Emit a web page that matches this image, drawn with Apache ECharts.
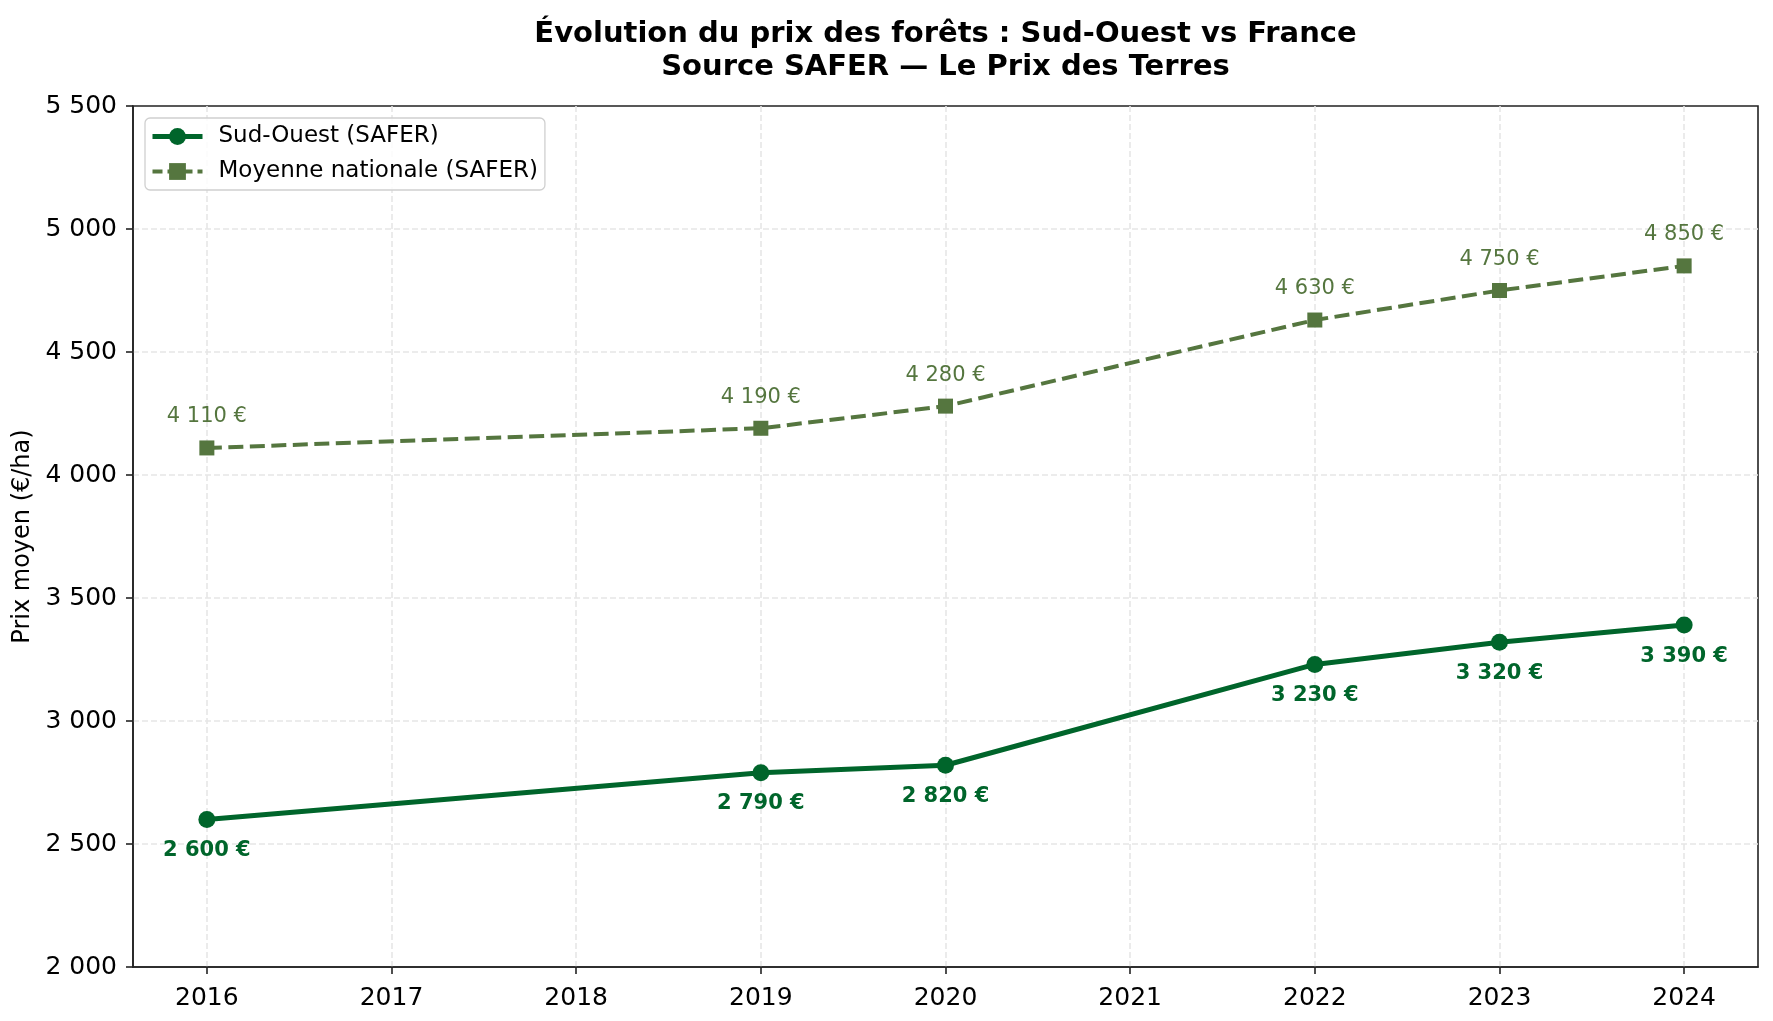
<!DOCTYPE html>
<html><head><meta charset="utf-8">
<script src="https://cdn.jsdelivr.net/npm/echarts@6/dist/echarts.min.js"></script>
<style>html,body{margin:0;padding:0;background:#fff}#c{width:1773px;height:1021px}</style>
</head><body><div id="c"></div>
<script>
const years = [2016, 2019, 2020, 2022, 2023, 2024];
const sudOuest = [2600, 2790, 2820, 3230, 3320, 3390];
const national = [4110, 4190, 4280, 4630, 4750, 4850];
const xTicks = [2016, 2017, 2018, 2019, 2020, 2021, 2022, 2023, 2024];
const seriesNames = ['Sud-Ouest (SAFER)', 'Moyenne nationale (SAFER)'];
const titleLines = ['Évolution du prix des forêts : Sud-Ouest vs France', 'Source SAFER — Le Prix des Terres'];
const yName = 'Prix moyen (€/ha)';

const C_SO = '#00652b';
const C_NAT = '#55763f';
const FONT = '"DejaVu Sans", sans-serif';
const fmt = v => String(Math.round(v)).replace(/\B(?=(\d{3})+(?!\d))/g, ' ');

const chart = echarts.init(document.getElementById('c'), null, {renderer: 'canvas'});
chart.setOption({
  animation: false,
  backgroundColor: '#fff',
  textStyle: {fontFamily: FONT},
  graphic: [{
    type: 'text', x: 945.5, y: 18, z: 10,
    style: {text: titleLines.join('\n'), font: 'bold 29px ' + FONT, fill: '#000',
      align: 'center', verticalAlign: 'top', textAlign: 'center', textVerticalAlign: 'top', lineHeight: 33}
  }],
  grid: {left: 133, right: 15, top: 106, bottom: 54, containLabel: false, outerBoundsMode: 'none',
    show: true, borderColor: '#222', borderWidth: 1.6, backgroundColor: 'transparent'},
  legend: {
    data: [
      {name: seriesNames[0], lineStyle: {width: 5, color: C_SO}, itemStyle: {color: C_SO}},
      {name: seriesNames[1], lineStyle: {width: 4, color: C_NAT, type: [10, 5]}, itemStyle: {color: C_NAT}}
    ],
    orient: 'vertical', left: 145, top: 118,
    padding: [7, 7, 7, 5], itemWidth: 50, itemHeight: 21, itemGap: 12,
    borderColor: '#d0d0d0', borderWidth: 1.3, borderRadius: 5, backgroundColor: 'rgba(255,255,255,0.85)',
    textStyle: {fontSize: 23, color: '#000', fontFamily: FONT, padding: [0, 0, 0, 11]}
  },
  xAxis: {
    type: 'value', min: 2015.6, max: 2024.4,
    axisLine: {show: true, lineStyle: {color: '#222', width: 1.6}},
    axisTick: {show: true, customValues: xTicks, length: 7, lineStyle: {color: '#222', width: 1.6}},
    axisLabel: {customValues: xTicks, fontSize: 25, color: '#000', margin: 19, fontFamily: FONT, formatter: v => String(v)},
    splitLine: {show: false}
  },
  yAxis: {
    type: 'value', min: 2000, max: 5500, interval: 500,
    name: yName, nameLocation: 'middle', nameGap: 90, nameRotate: 90,
    nameTextStyle: {fontSize: 24, color: '#000', fontFamily: FONT},
    axisLine: {show: true, lineStyle: {color: '#222', width: 1.6}},
    axisTick: {show: true, length: 7, lineStyle: {color: '#222', width: 1.6}},
    axisLabel: {fontSize: 25, color: '#000', margin: 16, fontFamily: FONT, formatter: v => fmt(v)},
    splitLine: {show: true, showMinLine: false, showMaxLine: false, lineStyle: {color: '#e6e6e6', width: 1.6, type: [6, 3]}}
  },
  series: [
    {
      name: 'xgrid', type: 'line', data: [], z: 0, silent: true,
      markLine: {
        z: 0, silent: true, symbol: ['none', 'none'], label: {show: false},
        emphasis: {disabled: true},
        lineStyle: {color: '#e6e6e6', width: 1.6, type: [6, 3]},
        data: xTicks.map(x => ({xAxis: x}))
      }
    },
    {
      name: seriesNames[0], type: 'line', z: 4,
      data: years.map((y, i) => [y, sudOuest[i]]),
      symbol: 'circle', symbolSize: 17,
      lineStyle: {color: C_SO, width: 5},
      itemStyle: {color: C_SO},
      label: {show: true, position: 'bottom', distance: 12, fontSize: 21, fontWeight: 'bold', color: C_SO, fontFamily: FONT,
        formatter: p => fmt(p.value[1]) + ' €'}
    },
    {
      name: seriesNames[1], type: 'line', z: 3,
      data: years.map((y, i) => [y, national[i]]),
      symbol: 'rect', symbolSize: 15,
      lineStyle: {color: C_NAT, width: 4, type: [15, 6.5]},
      itemStyle: {color: C_NAT},
      label: {show: true, position: 'top', distance: 13, fontSize: 21, color: C_NAT, fontFamily: FONT,
        formatter: p => fmt(p.value[1]) + ' €'}
    }
  ]
});
</script></body></html>
